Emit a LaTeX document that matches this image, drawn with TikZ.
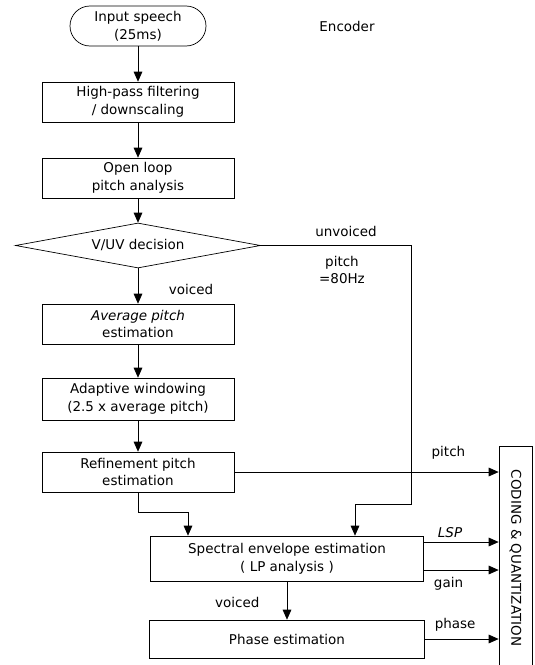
\documentclass[tikz,border=0pt]{standalone}
\usepackage{fontspec}
\setmainfont{DejaVu Sans}
\usetikzlibrary{arrows.meta,shapes.geometric}

\begin{document}
\begin{tikzpicture}[x=0.3mm,y=-0.3mm,>={Triangle[length=3mm,width=2.6mm]},line width=0.6pt,
font=\fontsize{11.5}{15}\selectfont,
box/.style={draw,align=center,minimum width=57.6mm,minimum height=12mm,inner sep=1pt},
term/.style={box,rounded corners=6mm,minimum width=40.8mm},
decide/.style={draw,diamond,align=center,shape aspect=5.4,inner sep=0pt,minimum width=73.5mm,minimum height=13.5mm},
flow/.style={->}]
\useasboundingbox (0,0) rectangle (534,665);
\node[term](inp) at (138,26) {Input speech\\(25ms)};
\node[box](hpf) at (138,102) {High-pass filtering\\/ downscaling};
\node[box](olp) at (138,178) {Open loop\\pitch analysis};
\node[decide](vuv) at (138,245.5) {V/UV decision};
\node[box](avg) at (138,324) {\textit{Average pitch}\\estimation};
\node[box,minimum height=12.6mm](adw) at (138,399) {Adaptive windowing\\(2.5 x average pitch)};
\node[box](ref) at (138,472) {Refinement pitch\\estimation};
\node[box,minimum width=81.9mm,minimum height=13.5mm](sep) at (287,558.5) {Spectral envelope estimation\\( LP analysis )};
\node[box,minimum width=82.5mm,minimum height=11.4mm](phs) at (287,639) {Phase estimation};
\node[draw,minimum width=9.9mm,minimum height=67.2mm,label={[rotate=-90]center:CODING \& QUANTIZATION}](cod) at (515.5,558) {};
\node(enc) at (347,26) {Encoder};
% unvoiced branch
\node(unv) at (346,231) {unvoiced};
\node[align=center](p80) at (342,270) {pitch\\=80Hz};
\coordinate (uv) at (411,504);
\coordinate (uvd) at (355,504);
\coordinate (rf) at (188,512);
\coordinate (ylsp) at (0,542);
\coordinate (ygain) at (0,570);
\draw[flow](inp)--(hpf);
\draw[flow](hpf)--(olp);
\draw[flow](olp)--(vuv);
\draw[flow](vuv)--(avg) node(vc1)[pos=.6,right=8mm]{voiced};
\draw[flow](avg)--(adw);
\draw[flow](adw)--(ref);
\draw[flow](vuv.east)-|(uv)--(uvd)--(uvd|-sep.north);
\draw[flow](ref.south)|-(rf)--(rf|-sep.north);
\draw[flow](ref.east)--(ref.east-|cod.west) node(pit)[pos=.81,above=2.5mm]{pitch};
\draw[flow](sep.east|-ylsp)--(cod.west|-ylsp) node(lsp)[pos=.35,above]{\textit{LSP}};
\draw[flow](sep.east|-ygain)--(cod.west|-ygain) node(gan)[pos=.33,below=1mm]{gain};
\draw[flow](sep)--(phs) node(vc2)[pos=.55,left=7mm]{voiced};
\draw[flow](phs.east)--(phs.east-|cod.west) node(pha)[pos=.41,above=1mm]{phase};
\end{tikzpicture}
\end{document}
